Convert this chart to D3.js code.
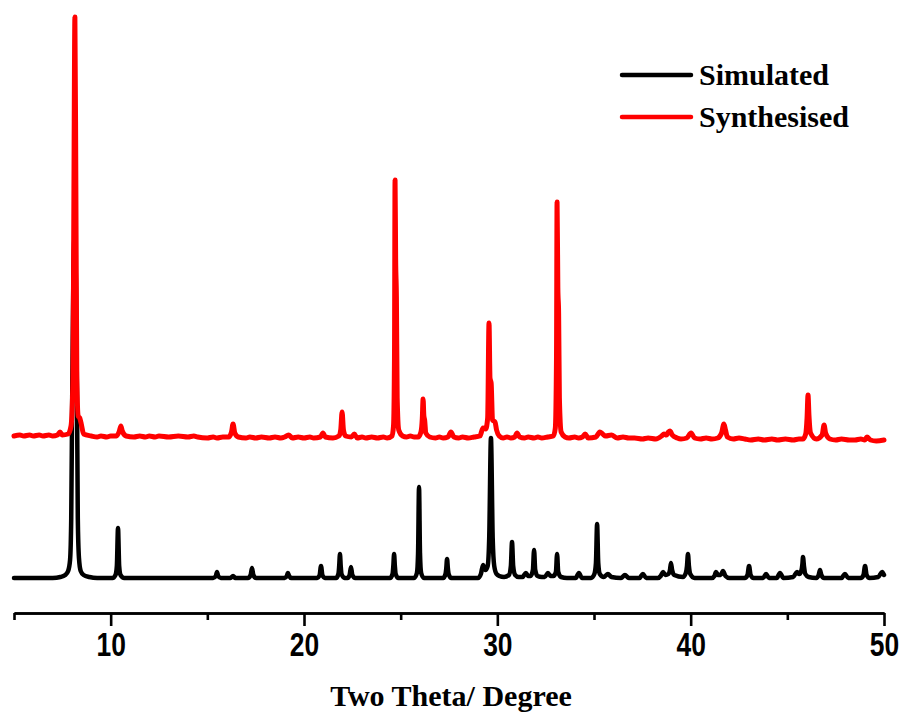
<!DOCTYPE html>
<html>
<head>
<meta charset="utf-8">
<script src="https://cdn.jsdelivr.net/npm/d3@7/dist/d3.min.js"></script>
<style>
  html, body { margin: 0; padding: 0; background: #fff; }
  svg { display: block; }
</style>
</head>
<body>
<svg id="chart" width="906" height="717"></svg>
<script>
// ---------------- data ----------------
const seriesNames = ["Simulated", "Synthesised"];
const seriesColors = ["#000000", "#ff0000"];
const majorTicks = [10, 20, 30, 40, 50];
const minorTicks = [5, 15, 25, 35, 45];
const xLabel = "Two Theta/ Degree";
const synthesisedOffset = 140; // vertical stacking offset (a.u.)

// Simulated pattern: [2theta, intensity a.u.]
const simulatedPattern = [
  [5.0,0],[7.0,0],[7.4,1],[7.65,3],[7.8,7],[7.9,18],[7.96,60],[8.01,180],[8.07,300],[8.13,341],[8.2,300],[8.26,180],[8.3,60],[8.36,20],[8.45,7],[8.6,3],[8.9,1],[9.3,0],
  [10.1,0],[10.25,3],[10.32,12],[10.38,50],[10.44,12],[10.51,3],[10.7,0],
  [15.3,0],[15.44,2],[15.5,6],[15.56,2],[15.7,0],
  [16.2,0],[16.33,2],[16.45,0],
  [17.1,0],[17.24,3],[17.31,10],[17.38,3],[17.52,0],
  [19.0,0],[19.11,2],[19.17,5],[19.23,2],[19.35,0],
  [20.68,0],[20.81,3],[20.88,12],[20.95,3],[21.08,0],
  [21.66,0],[21.78,4],[21.82,12],[21.86,24],[21.9,12],[21.94,4],[22.1,0],
  [22.25,0],[22.36,3],[22.43,11],[22.5,3],[22.65,0],
  [24.45,0],[24.58,4],[24.62,12],[24.66,24],[24.7,12],[24.74,4],[24.88,0],
  [25.7,0],[25.84,5],[25.9,25],[25.95,91],[26.0,25],[26.06,5],[26.2,0],
  [27.2,0],[27.32,4],[27.36,10],[27.4,19],[27.44,10],[27.48,4],[27.62,0],
  [29.0,0],[29.15,4],[29.26,13],[29.38,8],[29.5,12],[29.58,40],[29.67,140],[29.76,40],[29.84,12],[29.96,4],[30.1,2],
  [30.35,1],[30.6,3],[30.7,12],[30.76,36],[30.82,12],[30.92,3],[31.1,1],
  [31.3,1],[31.48,5],[31.6,2],
  [31.72,2],[31.84,8],[31.9,28],[31.96,8],[32.08,2],[32.3,1],
  [32.45,1],[32.62,5],[32.75,2],
  [32.9,2],[33.03,6],[33.09,24],[33.15,6],[33.3,1],[33.6,0],
  [34.05,0],[34.22,5],[34.38,0],
  [34.85,0],[35.02,4],[35.1,15],[35.16,54],[35.22,15],[35.3,4],[35.5,1],
  [35.72,4],[35.9,1],
  [36.4,0],[36.6,3],[36.8,0],
  [37.35,0],[37.53,4],[37.7,0],
  [38.3,0],[38.45,2],[38.57,6],[38.7,3],[38.85,4],[38.93,8],[38.98,15],[39.04,8],[39.15,3],
  [39.6,1],[39.75,5],[39.81,12],[39.86,24],[39.91,12],[39.98,4],[40.2,0],
  [41.1,0],[41.23,2],[41.31,6],[41.42,3],[41.55,3],[41.67,7],[41.8,2],[42.0,0],
  [42.8,0],[42.94,3],[43.02,12],[43.1,3],[43.25,0],
  [43.75,0],[43.9,4],[44.05,0],
  [44.45,0],[44.62,5],[44.8,0],
  [45.3,1],[45.5,6],[45.62,4],[45.72,7],[45.78,14],[45.81,21],[45.86,12],[45.93,4],[46.1,1],
  [46.5,0],[46.62,3],[46.69,8],[46.76,3],[46.9,0],
  [47.8,0],[47.98,4],[48.15,0],
  [48.8,0],[48.94,3],[49.02,12],[49.1,3],[49.25,0],
  [49.7,1],[49.9,6],[50.0,3]
];

// Synthesised (experimental) pattern: [2theta, intensity a.u.]
const synthesisedPattern = [
  [5.0,2],[5.3,3],[5.5,2],[5.8,3],[6.0,2],[6.3,3],[6.5,2],[6.8,3],[7.0,2],[7.25,3],[7.38,6],[7.5,3],[7.8,4],[7.95,12],[8.05,60],[8.1,250],[8.15,421],[8.2,250],[8.25,60],[8.32,22],[8.4,20],[8.48,14],[8.6,4],
  [9.0,2],[9.3,1],[9.5,2],[9.8,1],[10.0,2],[10.3,2],[10.45,7],[10.53,12],[10.6,7],[10.8,2],[11.2,1],[11.5,2],[11.8,1],[12.0,2],[12.3,1],[12.5,2],[13.0,1],[13.5,2],[14.0,1],[14.3,2],[14.5,1],[15.0,0],[15.3,1],[15.5,0],[15.8,1],
  [16.1,1],[16.25,6],[16.33,14],[16.42,5],[16.6,1],[17.0,0],[17.2,1],[17.5,0],[17.8,1],[18.2,0],[18.5,1],[18.8,0],[19.0,1],[19.2,3],[19.4,0],[19.7,1],[20.0,0],[20.3,1],[20.5,0],
  [20.85,1],[20.98,5],[21.1,1],[21.5,0],[21.8,2],[21.9,8],[21.97,26],[22.04,8],[22.15,2],[22.45,1],[22.6,4],[22.75,0],[23.0,1],[23.2,0],[23.5,1],[23.8,0],[24.1,1],[24.3,0],
  [24.55,2],[24.63,12],[24.68,80],[24.71,258],[24.74,180],[24.78,141],[24.82,40],[24.9,8],[25.1,2],[25.3,1],[25.5,2],[25.7,1],[25.9,1],
  [26.05,6],[26.12,20],[26.16,39],[26.2,22],[26.24,18],[26.3,5],[26.5,1],[26.8,0],[27.0,1],[27.2,0],[27.45,1],[27.6,6],[27.75,1],[28.0,0],[28.2,1],[28.5,0],[28.8,1],
  [29.1,2],[29.26,10],[29.4,9],[29.5,20],[29.57,115],[29.62,60],[29.68,55],[29.75,18],[29.88,16],[29.96,8],[30.1,2],[30.3,0],[30.5,1],[30.7,0],
  [30.9,1],[31.02,5],[31.15,1],[31.4,0],[31.6,1],[31.9,0],[32.1,1],[32.3,0],[32.6,1],[32.9,2],[33.0,10],[33.06,80],[33.09,236],[33.13,150],[33.17,125],[33.21,40],[33.3,6],[33.5,1],
  [33.7,0],[34.0,1],[34.2,0],[34.4,1],[34.54,4],[34.7,0],[35.1,1],[35.3,6],[35.45,4],[35.6,2],[35.9,3],[36.2,0],[36.5,1],[36.8,0],[37.1,0],[37.5,-1],[37.8,0],[38.2,-1],
  [38.5,2],[38.62,4],[38.75,3],[38.85,6],[38.93,7],[39.05,3],[39.3,0],[39.5,-1],[39.8,0],[40.02,5],[40.2,0],[40.5,-1],[40.8,0],[41.1,-1],[41.4,0],
  [41.6,5],[41.72,14],[41.8,8],[41.9,1],[42.2,-1],[42.5,0],[42.8,-1],[43.1,-2],[43.5,-1],[43.8,-2],[44.2,-1],[44.5,-2],[44.9,-1],[45.3,-2],[45.6,-1],[45.8,-1],
  [45.95,4],[46.02,20],[46.07,43],[46.12,22],[46.2,5],[46.5,-1],[46.8,3],[46.9,13],[46.98,5],[47.2,-1],[47.5,-2],[47.8,-1],[48.2,-2],[48.5,-2],[48.8,-1],[49.0,-2],[49.12,1],[49.3,-2],[49.6,-3],[50.0,-2]
];

// ---------------- drawing ----------------
const svg = d3.select("#chart");
const x = d3.scaleLinear().domain([5, 50]).range([14, 884]);
const y = d3.scaleLinear().domain([-35, 565]).range([613, 13]);

const line = d3.line()
  .x(d => x(d[0]))
  .y(d => y(d[1]))
  .curve(d3.curveMonotoneX);

svg.append("path")
  .datum(simulatedPattern)
  .attr("d", line)
  .attr("fill", "none")
  .attr("stroke", seriesColors[0])
  .attr("stroke-width", 4.5)
  .attr("stroke-linejoin", "round")
  .attr("stroke-linecap", "round");

svg.append("path")
  .datum(synthesisedPattern.map(d => [d[0], d[1] + synthesisedOffset]))
  .attr("d", line)
  .attr("fill", "none")
  .attr("stroke", seriesColors[1])
  .attr("stroke-width", 5)
  .attr("stroke-linejoin", "round")
  .attr("stroke-linecap", "round");

// axis
const axisY = 613;
const minorAxis = d3.axisBottom(x).tickValues(minorTicks).tickSize(7).tickSizeOuter(0).tickFormat("");
const majorAxis = d3.axisBottom(x).tickValues(majorTicks).tickSize(13).tickSizeOuter(0).tickFormat(d3.format("d"));

const gMinor = svg.append("g").attr("transform", `translate(0,${axisY})`).call(minorAxis);
const gMajor = svg.append("g").attr("transform", `translate(0,${axisY})`).call(majorAxis);
[gMinor, gMajor].forEach(g => {
  g.selectAll("path.domain").attr("stroke", "#000").attr("stroke-width", 2.6);
  g.selectAll(".tick line").attr("stroke", "#000").attr("stroke-width", 2.6);
});
gMajor.selectAll(".tick text")
  .attr("y", 43)
  .attr("dy", 0)
  .attr("fill", "#000")
  .attr("font-family", "'Liberation Sans', Arial, sans-serif")
  .attr("font-weight", "bold")
  .attr("font-size", 33)
  .attr("transform", "scale(0.8,1)");

svg.append("text")
  .attr("x", 451)
  .attr("y", 706)
  .attr("text-anchor", "middle")
  .attr("font-family", "'Liberation Serif', 'Times New Roman', serif")
  .attr("font-weight", "bold")
  .attr("font-size", 30)
  .attr("fill", "#000")
  .text(xLabel);

// legend
const legend = svg.append("g");
seriesNames.forEach((name, i) => {
  const ly = 75 + i * 42;
  legend.append("line")
    .attr("x1", 622).attr("x2", 691)
    .attr("y1", ly).attr("y2", ly)
    .attr("stroke", seriesColors[i])
    .attr("stroke-width", 4.5)
    .attr("stroke-linecap", "round");
  legend.append("text")
    .attr("x", 699)
    .attr("y", ly + 10)
    .attr("font-family", "'Liberation Serif', 'Times New Roman', serif")
    .attr("font-weight", "bold")
    .attr("font-size", 30)
    .attr("fill", "#000")
    .text(name);
});
</script>
</body>
</html>
